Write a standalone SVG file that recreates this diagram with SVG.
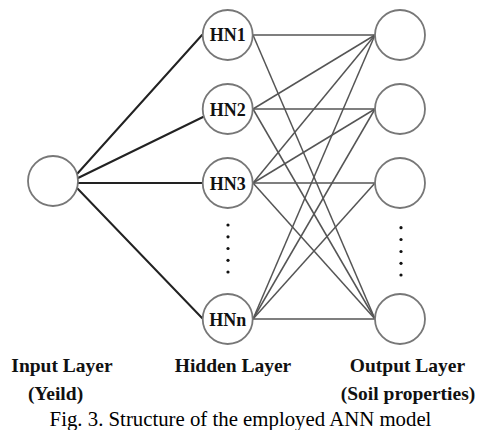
<svg xmlns="http://www.w3.org/2000/svg" width="478" height="430" viewBox="0 0 478 430">
<style>
.node{fill:#fff;stroke:#777;stroke-width:1.8}
.in{stroke:#222;stroke-width:2;fill:none;stroke-linecap:round}
.hid{stroke:#555;stroke-width:1.5;fill:none}
.lbl{font-family:"Liberation Serif",serif;font-weight:bold;font-size:18px;fill:#111;text-anchor:middle}
.cap{font-family:"Liberation Serif",serif;font-weight:bold;font-size:19.5px;fill:#111;text-anchor:middle}
.fig{font-family:"Liberation Serif",serif;font-size:20.8px;fill:#000;text-anchor:middle}
.dot{fill:#111}
</style>
<rect width="478" height="430" fill="#fff"/>
<g id="connectors">
<line class="in" x1="77" y1="174" x2="202" y2="35"/>
<line class="in" x1="78" y1="178" x2="203" y2="117"/>
<line class="in" x1="78" y1="183" x2="203" y2="183"/>
<line class="in" x1="77" y1="188" x2="202" y2="318"/>
<line class="hid" x1="253" y1="35" x2="375" y2="35"/>
<line class="hid" x1="253" y1="35" x2="375" y2="319"/>
<line class="hid" x1="253" y1="109" x2="375" y2="35"/>
<line class="hid" x1="253" y1="109" x2="375" y2="109"/>
<line class="hid" x1="253" y1="109" x2="375" y2="319"/>
<line class="hid" x1="253" y1="183" x2="375" y2="35"/>
<line class="hid" x1="253" y1="183" x2="375" y2="109"/>
<line class="hid" x1="253" y1="183" x2="375" y2="183"/>
<line class="hid" x1="253" y1="183" x2="375" y2="319"/>
<line class="hid" x1="253" y1="319" x2="375" y2="35"/>
<line class="hid" x1="253" y1="319" x2="375" y2="109"/>
<line class="hid" x1="253" y1="319" x2="375" y2="183"/>
<line class="hid" x1="253" y1="319" x2="375" y2="319"/>
</g>
<g id="input"><circle class="node" cx="53" cy="181" r="25"/></g>
<g id="hn1"><circle class="node" cx="227.7" cy="35" r="25"/><text class="lbl" x="227.7" y="41">HN1</text></g>
<g id="hn2"><circle class="node" cx="227.7" cy="109" r="25"/><text class="lbl" x="227.7" y="115.5">HN2</text></g>
<g id="hn3"><circle class="node" cx="227.7" cy="183" r="25"/><text class="lbl" x="227.7" y="189.5">HN3</text></g>
<g id="hnn"><circle class="node" cx="227.7" cy="319" r="25"/><text class="lbl" x="227.7" y="325.5">HNn</text></g>
<g id="out1"><circle class="node" cx="400" cy="35" r="25"/></g>
<g id="out2"><circle class="node" cx="400" cy="109" r="25"/></g>
<g id="out3"><circle class="node" cx="400" cy="183" r="25"/></g>
<g id="out4"><circle class="node" cx="400" cy="319" r="25"/></g>
<g id="hidden-dots">
<circle class="dot" cx="228" cy="225" r="1.6"/>
<circle class="dot" cx="228" cy="236.8" r="1.6"/>
<circle class="dot" cx="228" cy="248.5" r="1.6"/>
<circle class="dot" cx="228" cy="260.3" r="1.6"/>
<circle class="dot" cx="228" cy="272" r="1.6"/>
</g>
<g id="output-dots">
<circle class="dot" cx="401" cy="227.7" r="1.6"/>
<circle class="dot" cx="401" cy="239.5" r="1.6"/>
<circle class="dot" cx="401" cy="251.5" r="1.6"/>
<circle class="dot" cx="401" cy="263.3" r="1.6"/>
<circle class="dot" cx="401" cy="275" r="1.6"/>
</g>
<g id="labels">
<text class="cap" x="62" y="372">Input Layer</text>
<text class="cap" x="55.5" y="400">(Yeild)</text>
<text class="cap" x="233" y="372">Hidden Layer</text>
<text class="cap" x="407.5" y="372">Output Layer</text>
<text class="cap" x="408" y="400">(Soil properties)</text>
<text class="fig" x="240.5" y="426">Fig. 3. Structure of the employed ANN model</text>
</g>
</svg>
